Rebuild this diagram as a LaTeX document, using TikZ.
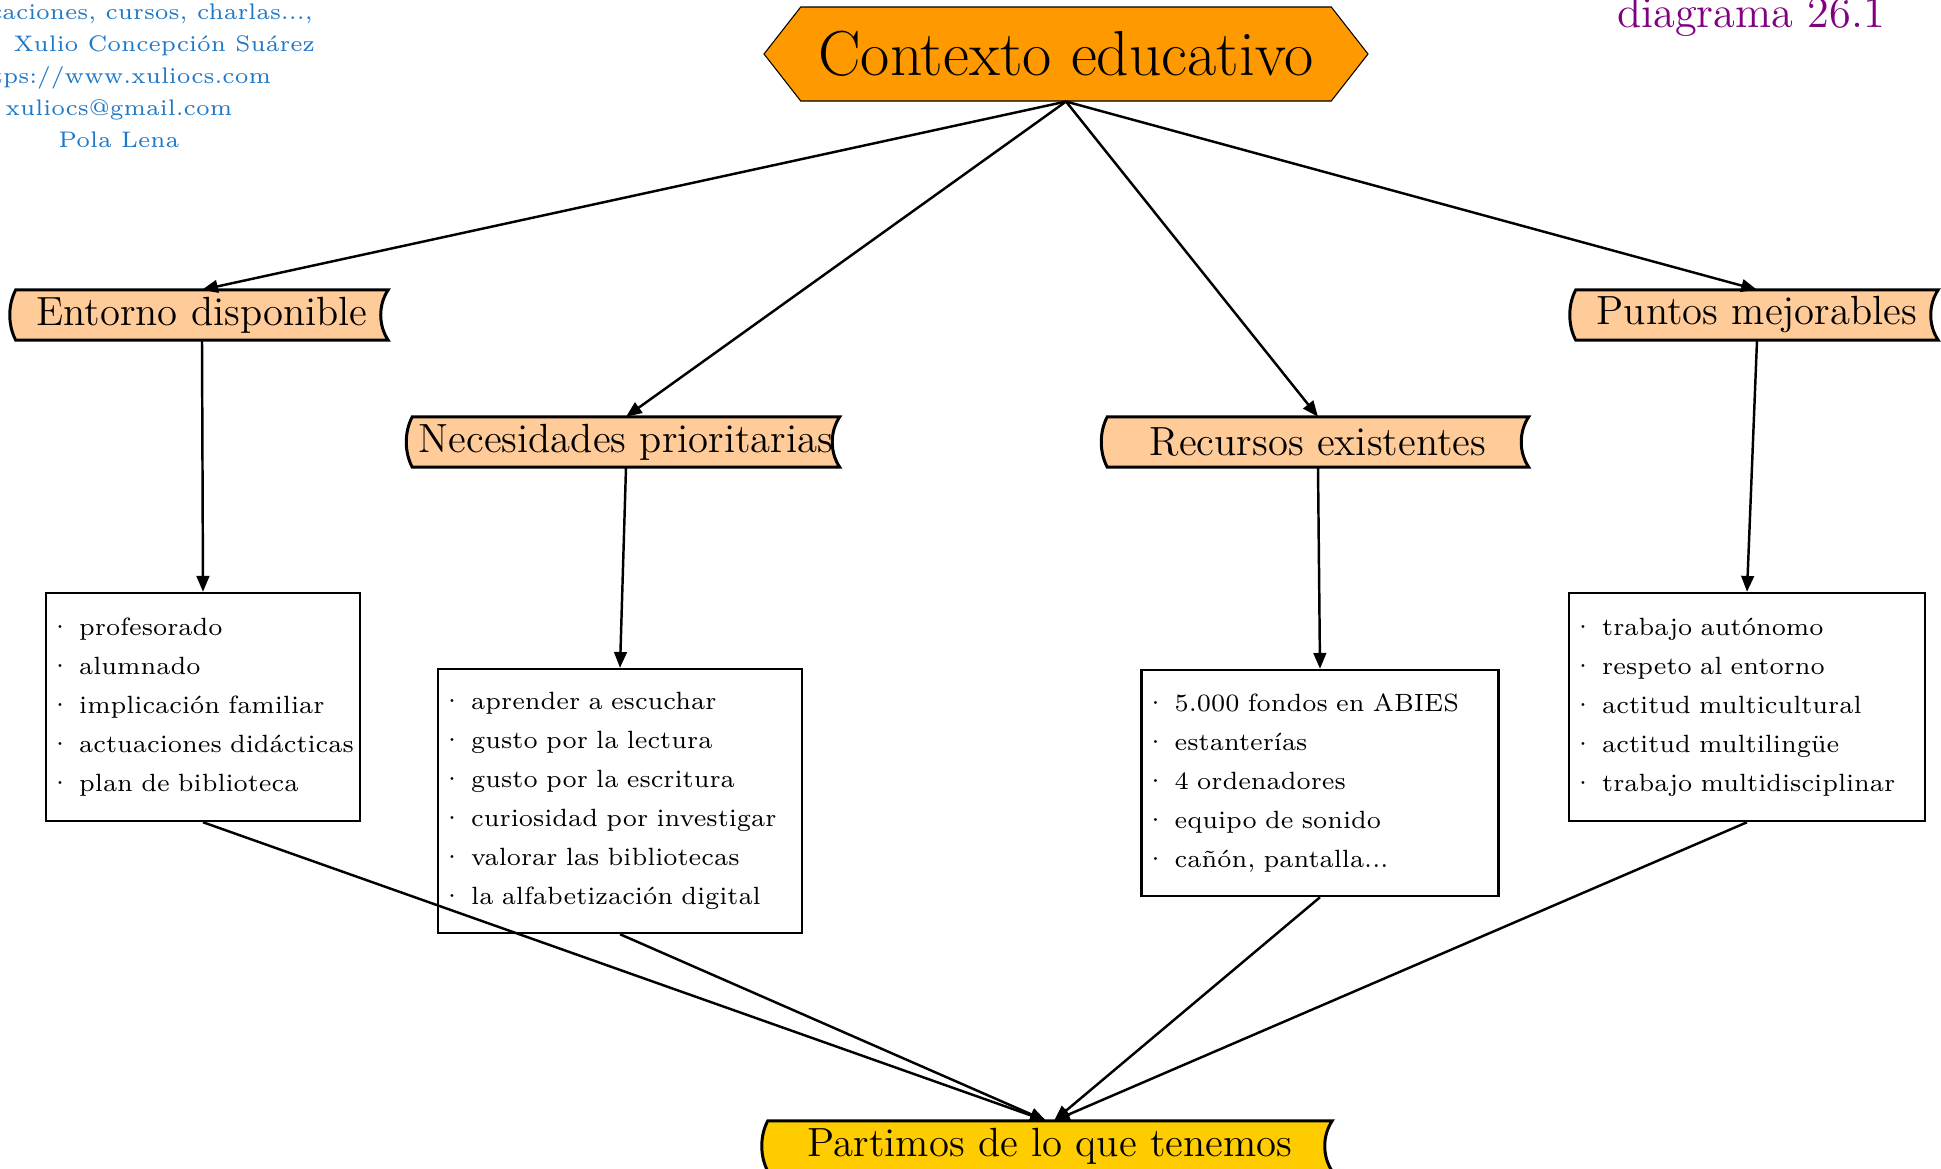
\documentclass[tikz,border=0pt]{standalone}
\usepackage{fontspec}
\usetikzlibrary{shapes.symbols,backgrounds,arrows.meta}
\definecolor{naranja}{RGB}{255,153,0}
\definecolor{melocoton}{RGB}{255,204,153}
\definecolor{oro}{RGB}{255,204,0}
\definecolor{azulx}{RGB}{30,120,200}
\definecolor{morado}{RGB}{128,0,128}
\tikzset{
  cinta/.style={minimum height=0.48cm, inner sep=0pt, font=\fontsize{11.6}{13}\selectfont},
  caja/.style={draw, inner xsep=0.03cm, inner ysep=0pt, align=left, font=\fontsize{7.1}{11.1}\selectfont},
}
\newcommand{\cintafondo}[2]{\draw[fill=#2,line width=0.85pt] (#1.north west) .. controls +(-8,15) and +(-8,-15) .. (#1.south west) -- (#1.south east) .. controls +(-10,-15) and +(-10,15) .. (#1.north east) -- cycle;}
\begin{document}
\begin{tikzpicture}[x=0.1mm,y=-0.1mm,>={Triangle[length=4.5pt,width=3.6pt]},line width=0.7pt]
\useasboundingbox (0,0) rectangle (1941,1168);
\node[text=azulx,align=center,font=\fontsize{6.4}{9.1}\selectfont] (A0) at (119,76) {Publicaciones, cursos, charlas...,\\Autor: Xulio Concepción Suárez\\https://www.xuliocs.com\\xuliocs@gmail.com\\Pola Lena};
\node[text=morado,font=\fontsize{12.6}{14}\selectfont] (D0) at (1751,17) {diagrama 26.1};
\node[signal,signal to=west and east,signal pointer angle=104,draw,line width=0.3pt,fill=naranja,minimum width=6.04cm,minimum height=0.94cm,inner sep=0pt,font=\fontsize{18.1}{20}\selectfont] (C0) at (1066,54) {Contexto educativo};
\node[cinta,minimum width=3.70cm] (E1) at (202,315) {Entorno disponible};
\node[cinta,minimum width=4.25cm] (E2) at (626,442) {Necesidades prioritarias};
\node[cinta,minimum width=4.19cm] (E3) at (1318,442) {Recursos existentes};
\node[cinta,minimum width=3.60cm] (E4) at (1757,315) {Puntos mejorables};
\node[cinta,minimum width=5.62cm] (P0) at (1050,1146) {Partimos de lo que tenemos};
\node[caja,text width=3.08cm,minimum height=2.28cm] (L1) at (203,707) {· profesorado\\· alumnado\\· implicación familiar\\· actuaciones didácticas\\· plan de biblioteca};
\node[caja,text width=3.58cm,minimum height=2.64cm] (L2) at (620,801) {· aprender a escuchar\\· gusto por la lectura\\· gusto por la escritura\\· curiosidad por investigar\\· valorar las bibliotecas\\· la alfabetización digital};
\node[caja,text width=3.51cm,minimum height=2.26cm] (L3) at (1320,783) {· 5.000 fondos en ABIES\\· estanterías\\· 4 ordenadores\\· equipo de sonido\\· cañón, pantalla...};
\node[caja,text width=3.50cm,minimum height=2.28cm] (L4) at (1747,707) {· trabajo autónomo\\· respeto al entorno\\· actitud multicultural\\· actitud multilingüe\\· trabajo multidisciplinar};
\begin{scope}[on background layer]
\cintafondo{E1}{melocoton}
\cintafondo{E2}{melocoton}
\cintafondo{E3}{melocoton}
\cintafondo{E4}{melocoton}
\cintafondo{P0}{oro}
\end{scope}
\draw[->] (C0.south) -- (E1.north);
\draw[->] (C0.south) -- (E2.north);
\draw[->] (C0.south) -- (E3.north);
\draw[->] (C0.south) -- (E4.north);
\draw[->] (E1.south) -- (L1.north);
\draw[->] (E2.south) -- (L2.north);
\draw[->] (E3.south) -- (L3.north);
\draw[->] (E4.south) -- (L4.north);
\draw[->] (L1.south) -- ([xshift=-0.04cm]P0.north);
\draw[->] (L2.south) -- ([xshift=-0.04cm]P0.north);
\draw[->] (L3.south) -- ([xshift=0.04cm]P0.north);
\draw[->] (L4.south) -- ([xshift=0.04cm]P0.north);
\end{tikzpicture}
\end{document}
